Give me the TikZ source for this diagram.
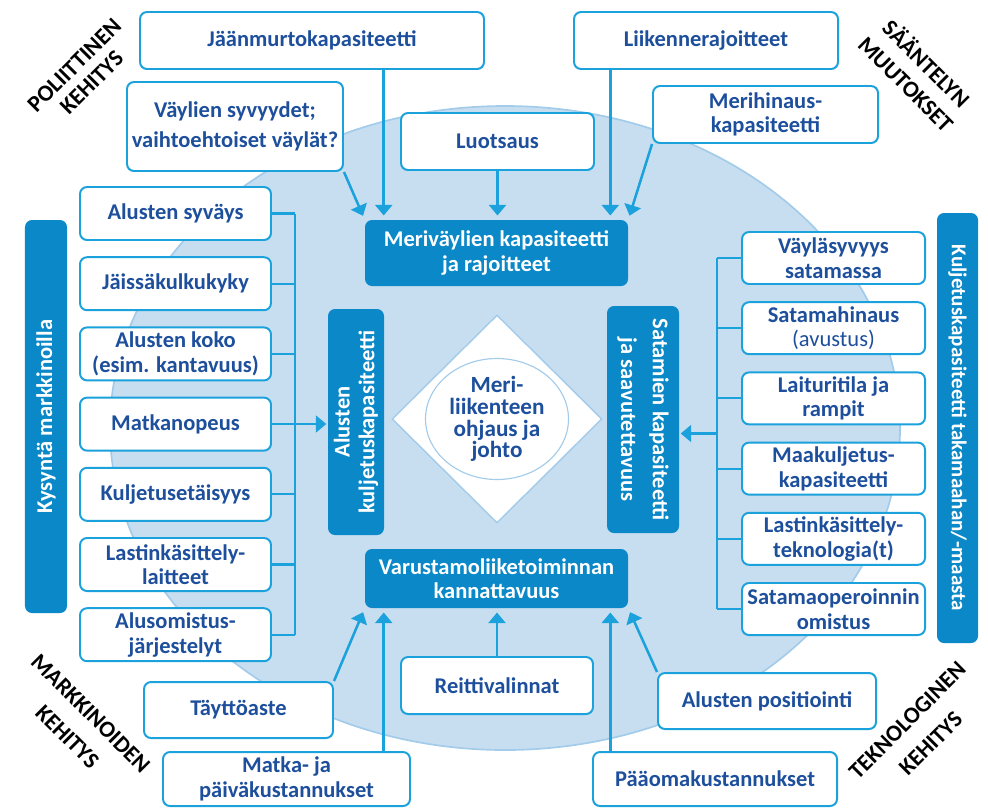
\documentclass[tikz,border=0pt]{standalone}
\usepackage{fontspec}
\setmainfont{Carlito}
\usetikzlibrary{arrows.meta,shapes.geometric}

\definecolor{lineblue}{HTML}{1BA1DB}
\definecolor{textblue}{HTML}{1D4F9C}
\definecolor{darkblue}{HTML}{0A88C8}
\definecolor{seafill}{HTML}{C7DEF1}
\definecolor{seaedge}{HTML}{A3CBEA}

\begin{document}
\begin{tikzpicture}[
  x=0.25mm, y=-0.25mm,
  box/.style={draw=lineblue, line width=1.4pt, fill=white, rounded corners=5pt, align=center,
    text=textblue, font=\bfseries\fontsize{16}{17.5}\selectfont, inner sep=1pt},
  dark/.style={fill=darkblue, rounded corners=5pt, align=center, text=white,
    font=\bfseries\fontsize{16}{17.5}\selectfont, inner sep=1pt},
  arr/.style={-{Triangle[width=12pt,length=7.5pt]}, lineblue, line width=1.8pt, shorten >=3pt},
  link/.style={lineblue, line width=1.5pt},
  corner/.style={align=center, text=black, font=\bfseries\fontsize{16.5}{17.5}\selectfont}
]
\useasboundingbox (0,0) rectangle (988,808);

% sea
\fill[seafill, draw=seaedge, line width=1.2pt] (505,428) ellipse [x radius=98.75mm, y radius=80.5mm];

% centre
\node[diamond, aspect=1, draw=seaedge, line width=1pt, fill=white, minimum width=52.5mm,
  minimum height=52mm, inner sep=0] (ruutu) at (497,419) {};
\node[ellipse, draw=seaedge, line width=0.8pt, fill=white, minimum width=35.75mm, minimum height=28mm,
  inner sep=0, align=center, text=textblue, font=\bfseries\fontsize{16.5}{15.5}\selectfont]
  (ohjaus) at (497,419) {Meri-\\liikenteen\\ohjaus ja\\johto};

\node[dark, minimum width=65.75mm, minimum height=16.5mm] (mkap) at (496.5,253) {Meriväylien kapasiteetti\\ja rajoitteet};
\node[dark, minimum width=65.75mm, minimum height=14.75mm] (vkan) at (496.5,578.5) {Varustamoliiketoiminnan\\kannattavuus};
\node[dark, rotate=90, minimum width=56.5mm, minimum height=14mm] (akap) at (356,422) {Alusten\\kuljetuskapasiteetti};
\node[dark, rotate=-90, minimum width=56.75mm, minimum height=18mm] (skap) at (643,419.5) {Satamien kapasiteetti\\[5pt]ja saavutettavuus};
\node[dark, rotate=90, minimum width=98.25mm, minimum height=10.5mm] (kysy) at (46,416.5) {Kysyntä markkinoilla};
\node[dark, rotate=-90, minimum width=107.5mm, minimum height=10.25mm, font=\bfseries\fontsize{15}{16}\selectfont]
  (takam) at (957.5,428) {Kuljetuskapasiteetti takamaahan/-maasta};

% top boxes
\node[box, minimum width=86mm, minimum height=14.25mm] (jaan) at (312,40.5) {Jäänmurtokapasiteetti};
\node[box, minimum width=66mm, minimum height=14.25mm] (liik) at (706,40.5) {Liikennerajoitteet};
\node[box, minimum width=54mm, minimum height=22.25mm] (vayl) at (235,126.5) {Väylien syvyydet;\\[4pt]vaihtoehtoiset väylät?};
\node[box, minimum width=48.25mm, minimum height=14.25mm] (luot) at (497.5,141.5) {Luotsaus};
\node[box, minimum width=56.25mm, minimum height=14.25mm] (meri) at (765.5,114.5) {Merihinaus-\\kapasiteetti};

% bottom boxes
\node[box, minimum width=47.25mm, minimum height=14mm] (tayt) at (238.5,710) {Täyttöaste};
\node[box, minimum width=61.75mm, minimum height=13.5mm] (matk) at (286.5,779) {Matka- ja\\päiväkustannukset};
\node[box, minimum width=48mm, minimum height=14.25mm] (reit) at (497,685.5) {Reittivalinnat};
\node[box, minimum width=54.5mm, minimum height=14mm] (posi) at (767,701) {Alusten positiointi};
\node[box, minimum width=61mm, minimum height=13.5mm] (paao) at (715,779) {Pääomakustannukset};

% left column
\foreach \lbl [count=\i] in {Alusten syväys, Jäissäkulkukyky, {Alusten koko\\(esim. kantavuus)},
    Matkanopeus, Kuljetusetäisyys, {Lastinkäsittely-\\laitteet}, {Alusomistus-\\järjestelyt}}
  \node[box, minimum width=47.75mm, minimum height=13.25mm] (l\i) at (175.5,143.3+70.2*\i) {\lbl};

% right column
\foreach \lbl [count=\i] in {{Väyläsyvyys\\satamassa}, {Satamahinaus\\\mdseries(avustus)},
    {Laituritila ja\\rampit}, {Maakuljetus-\\kapasiteetti}, {Lastinkäsittely-\\teknologia(t)},
    {Satamaoperoinnin\\omistus}}
  \node[box, minimum width=45.75mm, minimum height=13mm] (r\i) at (833.5,187.8+70.2*\i) {\lbl};

% corner labels
\node[corner, rotate=45] (polit) at (83,74) {POLIITTINEN\\KEHITYS};
\node[corner, rotate=-45] (saant) at (917,73) {SÄÄNTELYN\\[3pt]MUUTOKSET};
\node[corner, rotate=-45] (markk) at (79,725) {MARKKINOIDEN\\[6pt]KEHITYS};
\node[corner, rotate=45] (tekno) at (919,732) {TEKNOLOGINEN\\[6pt]KEHITYS};

% brackets
\coordinate (lspine) at (295,424);
\foreach \i in {1,...,7}
  \draw[link] (l\i.east) -- (l\i.east -| lspine);
\draw[link] (l1.east -| lspine) -- (l7.east -| lspine);
\draw[arr, shorten >=1pt] (lspine) -- (lspine -| akap.north);

\coordinate (rspine) at (717,433.5);
\foreach \i in {1,...,6}
  \draw[link] (r\i.west) -- (r\i.west -| rspine);
\draw[link] (r1.west -| rspine) -- (r6.west -| rspine);
\draw[arr, shorten >=1pt] (rspine) -- (rspine -| skap.north);

% arrows into the fairway box
\coordinate (tl) at ([xshift=4.75mm]mkap.north west);
\coordinate (tr) at ([xshift=-4.5mm]mkap.north east);
\draw[arr] (tl |- jaan.south) -- (tl);
\draw[arr] (vayl.south east) -- (mkap.north west);
\draw[arr] (luot.south) -- (luot.south |- mkap.north);
\draw[arr] (tr |- liik.south) -- (tr);
\draw[arr] (meri.south west) -- (mkap.north east);

% arrows into the profitability box
\coordinate (bl) at ([xshift=4.75mm]vkan.south west);
\coordinate (br) at ([xshift=-4.5mm]vkan.south east);
\draw[arr] (tayt.north east) -- (vkan.south west);
\draw[arr] (bl |- matk.north) -- (bl);
\draw[arr] (reit.north) -- (reit.north |- vkan.south);
\draw[arr] (br |- paao.north) -- (br);
\draw[arr] (posi.north west) -- (vkan.south east);

\end{tikzpicture}
\end{document}
